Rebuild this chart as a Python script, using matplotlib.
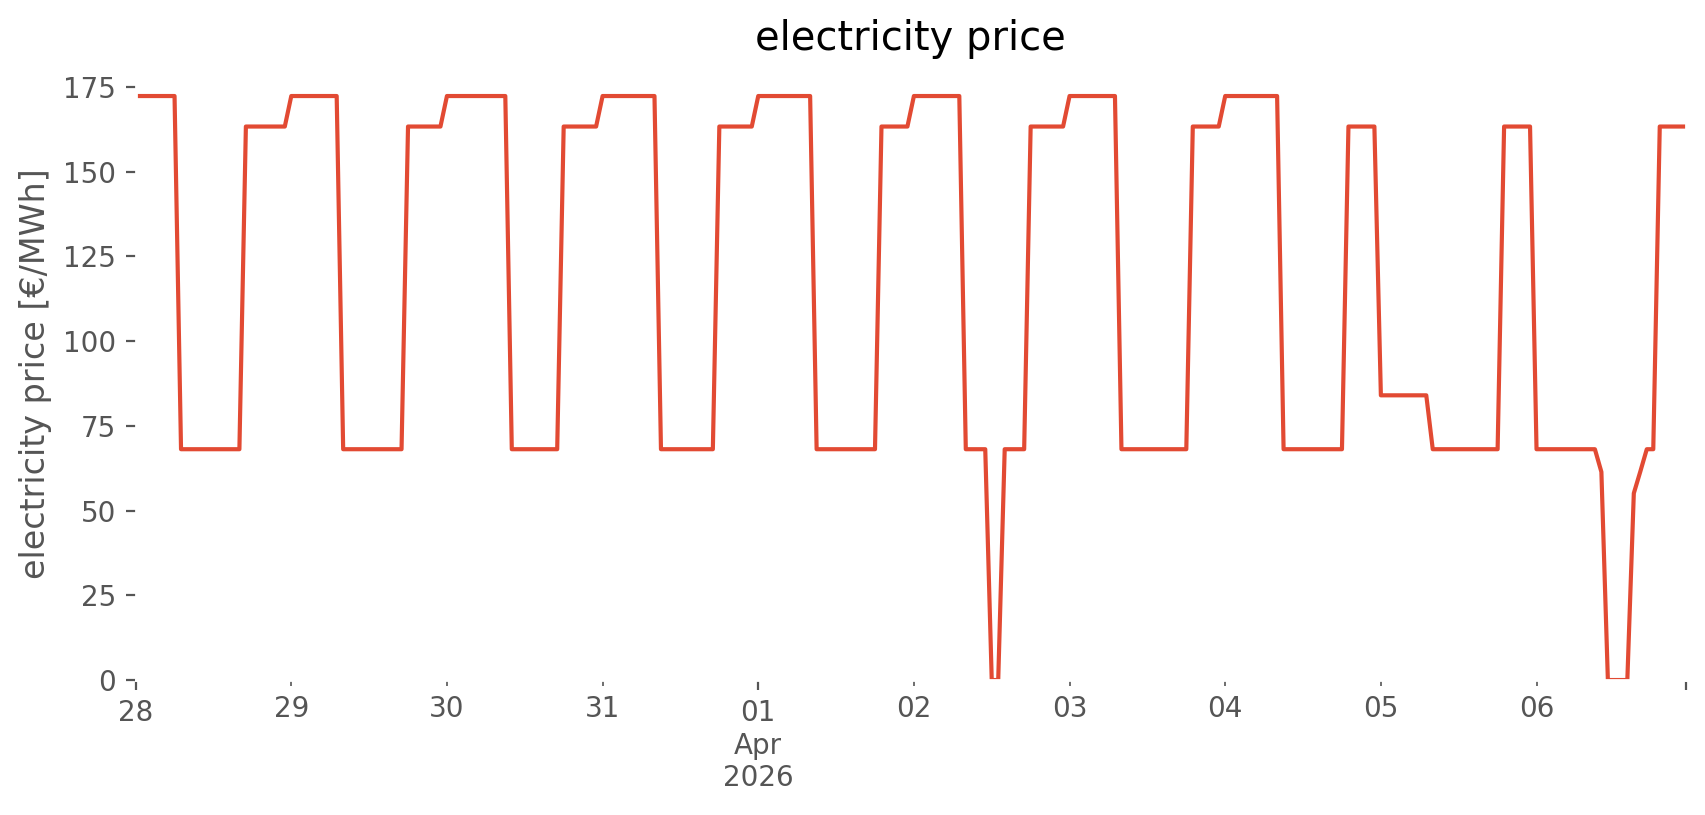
import numpy as np
import pandas as pd
import matplotlib
matplotlib.use("Agg")
import matplotlib.pyplot as plt

# ── hourly electricity price, 28 Mar 2026 00:00 → 06 Apr 2026 23:00 ─────────
START = "2026-03-28 00:00"
PRICE = [
    # 28 Mar
    172.3, 172.3, 172.3, 172.3, 172.3, 172.3, 172.3, 68.1, 68.1, 68.1, 68.1, 68.1,
    68.1, 68.1, 68.1, 68.1, 68.1, 163.3, 163.3, 163.3, 163.3, 163.3, 163.3, 163.3,
    # 29 Mar
    172.3, 172.3, 172.3, 172.3, 172.3, 172.3, 172.3, 172.3, 68.1, 68.1, 68.1, 68.1,
    68.1, 68.1, 68.1, 68.1, 68.1, 68.1, 163.3, 163.3, 163.3, 163.3, 163.3, 163.3,
    # 30 Mar
    172.3, 172.3, 172.3, 172.3, 172.3, 172.3, 172.3, 172.3, 172.3, 172.3, 68.1, 68.1,
    68.1, 68.1, 68.1, 68.1, 68.1, 68.1, 163.3, 163.3, 163.3, 163.3, 163.3, 163.3,
    # 31 Mar
    172.3, 172.3, 172.3, 172.3, 172.3, 172.3, 172.3, 172.3, 172.3, 68.1, 68.1, 68.1,
    68.1, 68.1, 68.1, 68.1, 68.1, 68.1, 163.3, 163.3, 163.3, 163.3, 163.3, 163.3,
    # 01 Apr
    172.3, 172.3, 172.3, 172.3, 172.3, 172.3, 172.3, 172.3, 172.3, 68.1, 68.1, 68.1,
    68.1, 68.1, 68.1, 68.1, 68.1, 68.1, 68.1, 163.3, 163.3, 163.3, 163.3, 163.3,
    # 02 Apr
    172.3, 172.3, 172.3, 172.3, 172.3, 172.3, 172.3, 172.3, 68.1, 68.1, 68.1, 68.1,
    0.0, 0.0, 68.1, 68.1, 68.1, 68.1, 163.3, 163.3, 163.3, 163.3, 163.3, 163.3,
    # 03 Apr
    172.3, 172.3, 172.3, 172.3, 172.3, 172.3, 172.3, 172.3, 68.1, 68.1, 68.1, 68.1,
    68.1, 68.1, 68.1, 68.1, 68.1, 68.1, 68.1, 163.3, 163.3, 163.3, 163.3, 163.3,
    # 04 Apr
    172.3, 172.3, 172.3, 172.3, 172.3, 172.3, 172.3, 172.3, 172.3, 68.1, 68.1, 68.1,
    68.1, 68.1, 68.1, 68.1, 68.1, 68.1, 68.1, 163.3, 163.3, 163.3, 163.3, 163.3,
    # 05 Apr
    84.0, 84.0, 84.0, 84.0, 84.0, 84.0, 84.0, 84.0, 68.1, 68.1, 68.1, 68.1,
    68.1, 68.1, 68.1, 68.1, 68.1, 68.1, 68.1, 163.3, 163.3, 163.3, 163.3, 163.3,
    # 06 Apr
    68.1, 68.1, 68.1, 68.1, 68.1, 68.1, 68.1, 68.1, 68.1, 68.1, 61.4, 0.0,
    0.0, 0.0, 0.0, 55.1, 61.5, 68.1, 68.1, 163.3, 163.3, 163.3, 163.3, 163.3,
]

plt.style.use("ggplot")

idx = pd.date_range(START, periods=len(PRICE), freq="h")
price = pd.Series(PRICE, index=idx)

fig, ax = plt.subplots(figsize=(8.53, 4.075), dpi=200)
fig.subplots_adjust(left=0.0795, right=0.9881, bottom=0.1656, top=0.918)

price.plot(ax=ax)
ax.set_ylim(bottom=0)
ax.set_facecolor("white")
ax.grid(False)
ax.set_title("electricity price")
ax.set_ylabel("electricity price [€/MWh]")
ax.set_xlabel("")

fig.savefig("out.png", dpi=200)
